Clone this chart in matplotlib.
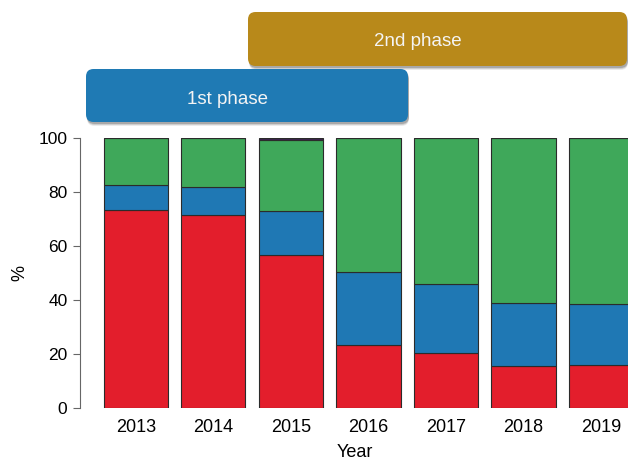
import matplotlib.pyplot as plt
from matplotlib.patches import FancyBboxPatch
import numpy as np

plt.rcParams['font.family'] = ['Liberation Sans', 'DejaVu Sans']

years = ['2013', '2014', '2015', '2016', '2017', '2018', '2019']
red_vals = [73.3, 71.5, 56.8, 23.4, 20.4, 15.7, 15.8]
blue_vals = [9.3, 10.4, 16.2, 27.0, 25.6, 23.3, 22.9]
green_vals = [17.4, 18.1, 26.3, 49.6, 54.0, 61.0, 61.3]
purple_vals = [0.0, 0.0, 0.7, 0.0, 0.0, 0.0, 0.0]

W, H = 628, 462
fig = plt.figure(figsize=(W / 100, H / 100), dpi=100)
ax = fig.add_axes([80 / W, 54 / H, (W - 80) / W, 270 / H])

x = np.arange(len(years))
colors = ['#e31e2c', '#1f78b4', '#3fa85a', '#3b2450']
bottom = np.zeros(len(years))
for vals, c in zip([red_vals, blue_vals, green_vals, purple_vals], colors):
    ax.bar(x, vals, bottom=bottom, width=0.83, color=c, edgecolor='#2b2b2b', linewidth=0.8)
    bottom += np.array(vals)

ax.set_xlim(-0.72, 6.35)
ax.set_ylim(0, 100)
ax.set_xticks(x)
ax.set_xticklabels(years, fontsize=13)
ax.tick_params(axis='x', length=0, pad=8)
ax.set_yticks([0, 20, 40, 60, 80, 100])
ax.tick_params(axis='y', labelsize=12.5, length=5, color='#666666', pad=4)
for s in ['top', 'right', 'bottom']:
    ax.spines[s].set_visible(False)
ax.spines['left'].set_color('#666666')
ax.set_ylabel('%', fontsize=13)
ax.yaxis.set_label_coords(-52 / (W - 80), 0.5)
ax.set_xlabel('Year', fontsize=13)
ax.xaxis.set_label_coords((355 - 80) / (W - 80), -36 / 270)


def banner(x0, y0, x1, y1, color, text, tx, ty):
    # pixel coords from the top-left corner
    fx0, fx1 = x0 / W, x1 / W
    fy0, fy1 = 1 - y1 / H, 1 - y0 / H
    for k, a in [(4, 0.08), (3, 0.12), (2, 0.18)]:
        shadow = FancyBboxPatch((fx0 + 1 / W, fy0 - k / H), fx1 - fx0, fy1 - fy0,
                                boxstyle='round,pad=0,rounding_size=0.012',
                                transform=fig.transFigure, facecolor='#000000',
                                alpha=a, edgecolor='none', mutation_aspect=W / H)
        fig.add_artist(shadow)
    box = FancyBboxPatch((fx0, fy0), fx1 - fx0, fy1 - fy0,
                         boxstyle='round,pad=0,rounding_size=0.012',
                         transform=fig.transFigure, facecolor=color,
                         edgecolor='none', mutation_aspect=W / H)
    fig.add_artist(box)
    fig.text(tx / W, 1 - ty / H, text, color='#f4f4f4', fontsize=13.5,
             ha='center', va='center')


banner(248, 12, 627, 66, '#b8891a', '2nd phase', 418, 42)
banner(86, 69, 408, 122, '#1f7ab4', '1st phase', 228, 99)

fig.savefig('out.png', dpi=100)
